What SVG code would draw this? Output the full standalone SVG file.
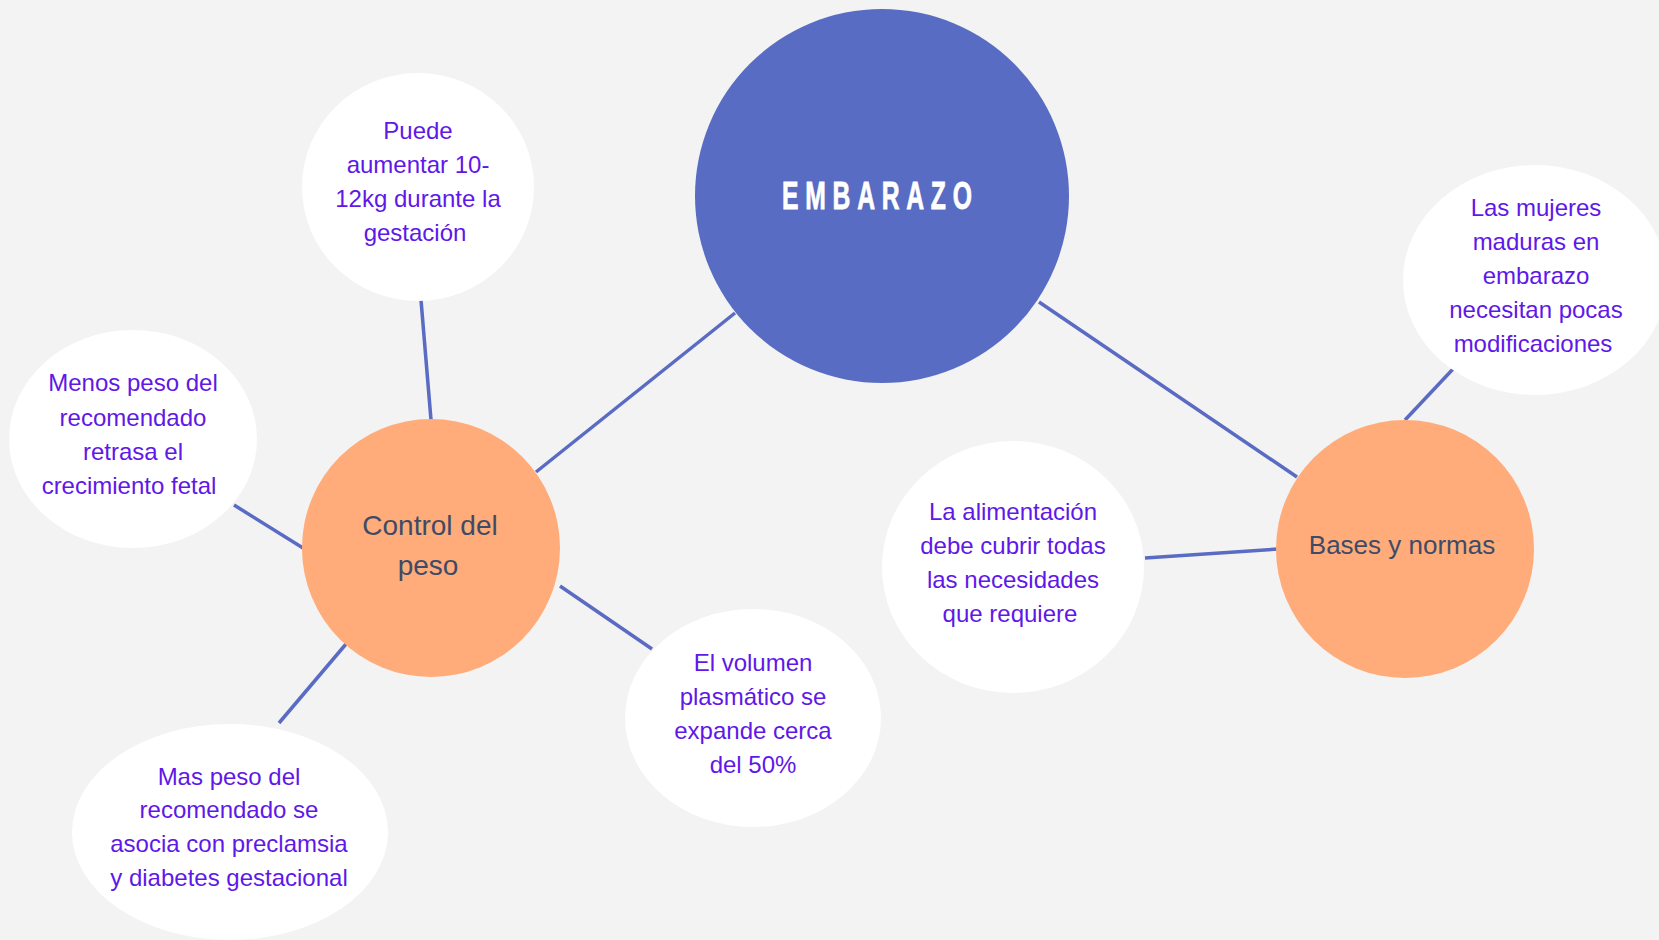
<svg xmlns="http://www.w3.org/2000/svg" width="1659" height="940" viewBox="0 0 1659 940">
<style>
.bg{fill:#f3f3f3}
.white{fill:#ffffff}
.orange{fill:#ffab7a}
.blue{fill:#586cc3}
.edge{stroke:#5a6bc4;stroke-width:3.5;fill:none;stroke-linecap:butt}
.leaf{font-family:"Liberation Sans",Arial,sans-serif;font-size:24px;fill:#6018e8;text-anchor:middle}
.mid{font-family:"Liberation Sans",Arial,sans-serif;fill:#3e4b66;text-anchor:middle}
.title{font-family:"Liberation Sans",Arial,sans-serif;font-size:38px;font-weight:bold;fill:#ffffff;stroke:#ffffff;stroke-width:0.8;text-anchor:middle}
</style>
<rect class="bg" x="0" y="0" width="1659" height="940"/>
<g id="connectors">
<line class="edge" x1="735" y1="313" x2="536" y2="472"/>
<line class="edge" x1="1039" y1="302" x2="1297" y2="477"/>
<line class="edge" x1="421" y1="300" x2="431" y2="420"/>
<line class="edge" x1="234" y1="505" x2="303" y2="548"/>
<line class="edge" x1="346" y1="644" x2="279" y2="723"/>
<line class="edge" x1="560" y1="586" x2="652" y2="649"/>
<line class="edge" x1="1145" y1="558" x2="1278" y2="549"/>
<line class="edge" x1="1405" y1="420" x2="1453" y2="369"/>
</g>
<g id="embarazo">
<circle class="blue" cx="882" cy="196" r="187"/>
<g transform="translate(877,209) scale(0.65,1)">
<text class="title" x="0" y="0" textLength="292" lengthAdjust="spacing">EMBARAZO</text>
</g>
</g>
<g id="control">
<circle class="orange" cx="431" cy="548" r="129"/>
<text class="mid" font-size="28" x="430" y="535">Control del</text>
<text class="mid" font-size="28" x="428" y="575">peso</text>
</g>
<g id="bases">
<circle class="orange" cx="1405" cy="549" r="129"/>
<text class="mid" font-size="26" x="1402" y="554">Bases y normas</text>
</g>
<g id="puede">
<ellipse class="white" cx="418" cy="187" rx="116" ry="114"/>
<text class="leaf" x="418" y="139">Puede</text>
<text class="leaf" x="418" y="173">aumentar 10-</text>
<text class="leaf" x="418" y="207">12kg durante la</text>
<text class="leaf" x="415" y="241">gestación</text>
</g>
<g id="menos">
<ellipse class="white" cx="133" cy="439" rx="124" ry="109"/>
<text class="leaf" x="133" y="391">Menos peso del</text>
<text class="leaf" x="133" y="426">recomendado</text>
<text class="leaf" x="133" y="460">retrasa el</text>
<text class="leaf" x="129" y="494">crecimiento fetal</text>
</g>
<g id="mas">
<ellipse class="white" cx="230" cy="832" rx="158" ry="108"/>
<text class="leaf" x="229" y="785">Mas peso del</text>
<text class="leaf" x="229" y="818">recomendado se</text>
<text class="leaf" x="229" y="852">asocia con preclamsia</text>
<text class="leaf" x="229" y="886">y diabetes gestacional</text>
</g>
<g id="volumen">
<ellipse class="white" cx="753" cy="718" rx="128" ry="109"/>
<text class="leaf" x="753" y="671">El volumen</text>
<text class="leaf" x="753" y="705">plasmático se</text>
<text class="leaf" x="753" y="739">expande cerca</text>
<text class="leaf" x="753" y="773">del 50%</text>
</g>
<g id="alimentacion">
<ellipse class="white" cx="1013" cy="567" rx="131" ry="126"/>
<text class="leaf" x="1013" y="520">La alimentación</text>
<text class="leaf" x="1013" y="554">debe cubrir todas</text>
<text class="leaf" x="1013" y="588">las necesidades</text>
<text class="leaf" x="1010" y="622">que requiere</text>
</g>
<g id="mujeres">
<ellipse class="white" cx="1535" cy="280" rx="132" ry="115"/>
<text class="leaf" x="1536" y="216">Las mujeres</text>
<text class="leaf" x="1536" y="250">maduras en</text>
<text class="leaf" x="1536" y="284">embarazo</text>
<text class="leaf" x="1536" y="318">necesitan pocas</text>
<text class="leaf" x="1533" y="352">modificaciones</text>
</g>
</svg>
